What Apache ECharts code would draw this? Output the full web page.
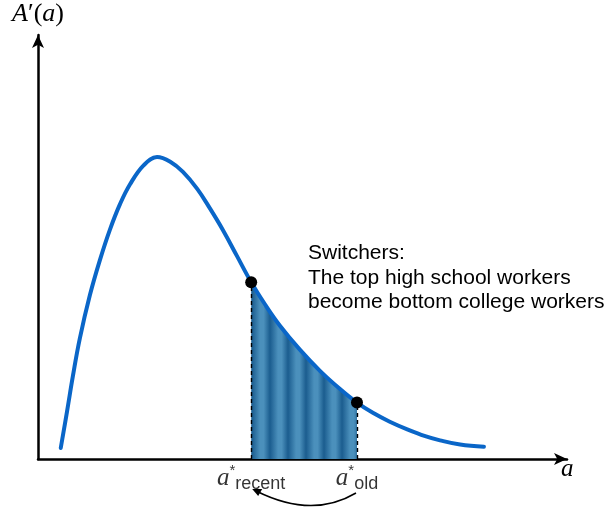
<!DOCTYPE html>
<html>
<head>
<meta charset="utf-8">
<script src="https://cdn.jsdelivr.net/npm/echarts@6/dist/echarts.min.js"></script>
<style>
  html, body { margin: 0; padding: 0; background: #fff; }
  #chart { width: 605px; height: 512px; }
</style>
</head>
<body>
<div id="chart"></div>
<script>
// curve A'(a) (arbitrary units, axes run 0..10)
const curveX = [0.43, 0.55, 0.66, 0.79, 0.98, 1.17, 1.36, 1.55, 1.74, 2.00, 2.25, 2.50, 2.74, 3.01, 3.25, 3.50, 3.76,
  4.03, 4.29, 4.57, 4.95, 5.33, 5.71, 6.03, 6.33, 6.65, 6.98, 7.32, 7.60, 7.98, 8.43];
const curveY = [0.26, 1.13, 1.96, 2.84, 3.86, 4.69, 5.41, 6.01, 6.48, 6.93, 7.12, 7.01, 6.77, 6.37, 5.91, 5.39, 4.79,
  4.17, 3.65, 3.15, 2.58, 2.08, 1.65, 1.33, 1.09, 0.88, 0.70, 0.54, 0.44, 0.34, 0.29];

// thresholds a*_recent and a*_old
const markNames = ['recent', 'old'];
const markX = [4.03, 6.03];

const switcherText = ['Switchers:', 'The top high school workers', 'become bottom college workers'];

const curve = curveX.map((x, i) => [x, curveY[i]]);
const shaded = curve.filter(p => p[0] >= markX[0] && p[0] <= markX[1]);
const markY = markX.map(x => curveY[curveX.indexOf(x)]);

// vertical stripe pattern for the shaded band
const stripe = document.createElement('canvas');
stripe.width = 18;
stripe.height = 4;
const sctx = stripe.getContext('2d');
const grad = sctx.createLinearGradient(0, 0, 18, 0);
grad.addColorStop(0, '#1b5d8f');
grad.addColorStop(0.45, '#4b90bc');
grad.addColorStop(0.65, '#4b90bc');
grad.addColorStop(1, '#1b5d8f');
sctx.fillStyle = grad;
sctx.fillRect(0, 0, 18, 4);

const chart = echarts.init(document.getElementById('chart'));

const serif = "'Liberation Serif', 'DejaVu Serif', serif";
const sans = "'Liberation Sans', Arial, sans-serif";

const noteText = {
  type: 'text', left: 308, top: 241,
  style: { text: switcherText.join('\n'), font: '21px ' + sans, lineHeight: 24.5, fill: '#000' }
};

const option = {
  animation: false,
  grid: { left: 38, right: 38, top: 35, bottom: 53 },
  xAxis: {
    type: 'value', min: 0, max: 10,
    name: 'a', nameLocation: 'end', nameGap: -6,
    nameTextStyle: { fontFamily: serif, fontStyle: 'italic', fontSize: 25, color: '#000',
      verticalAlign: 'top', padding: [-2, 0, 0, 0] },
    axisLine: { lineStyle: { color: '#000', width: 2.5 }, symbol: ['none', 'arrow'], symbolSize: [9, 13] },
    axisTick: { show: false }, axisLabel: { show: false }, splitLine: { show: false }
  },
  yAxis: {
    type: 'value', min: 0, max: 10,
    name: '{i|A}{n|′(}{i|a}{n|)}', nameLocation: 'end', nameGap: 8,
    nameTextStyle: {
      rich: {
        i: { fontFamily: serif, fontStyle: 'italic', fontSize: 26, color: '#000' },
        n: { fontFamily: serif, fontSize: 26, color: '#000' }
      }
    },
    axisLine: { lineStyle: { color: '#000', width: 2.5 }, symbol: ['none', 'arrow'], symbolSize: [9, 13] },
    axisTick: { show: false }, axisLabel: { show: false }, splitLine: { show: false }
  },
  series: [
    {
      type: 'line', data: shaded, smooth: 0.4, symbol: 'none', z: 1,
      lineStyle: { width: 0 },
      areaStyle: { origin: 'start', color: { image: stripe, repeat: 'repeat' }, opacity: 1 },
      markLine: {
        silent: true, symbol: 'none', label: { show: false },
        lineStyle: { color: '#000', type: [4, 3], width: 1.4 },
        data: markX.map((x, i) => [{ coord: [x, 0] }, { coord: [x, markY[i]] }])
      }
    },
    {
      type: 'line', data: curve, smooth: 0.4, symbol: 'none', z: 3,
      lineStyle: { color: '#0a66c8', width: 4, cap: 'round' }
    },
    {
      type: 'scatter', data: markX.map((x, i) => [x, markY[i]]), z: 4,
      symbolSize: 12, itemStyle: { color: '#000', opacity: 1 }
    },
    {
      type: 'scatter', data: markX.map(x => [x, 0]), symbolSize: 0, z: 4,
      label: {
        show: true, position: 'bottom', distance: 4,
        formatter: p => '{a|a}{s|*}{b|' + markNames[p.dataIndex] + '}',
        rich: {
          a: { fontFamily: serif, fontStyle: 'italic', fontSize: 25, color: '#000', lineHeight: 30 },
          s: { fontFamily: sans, fontSize: 15, color: '#000', verticalAlign: 'top', lineHeight: 16 },
          b: { fontFamily: sans, fontSize: 18, color: '#000', verticalAlign: 'bottom', lineHeight: 20 }
        }
      }
    }
  ],
  graphic: [noteText]
};

chart.setOption(option);

// curved arrow from a*_old back to a*_recent, placed from the data positions
const pOld = chart.convertToPixel({ gridIndex: 0 }, [markX[1], 0]);
const pNew = chart.convertToPixel({ gridIndex: 0 }, [markX[0], 0]);
const y0 = pOld[1] + 34;
const x1 = pOld[0] - 1, x2 = pNew[0] + 1;
chart.setOption({
  graphic: [
    noteText,
    {
      type: 'bezierCurve',
      shape: { x1: x1, y1: y0, x2: x2 + 4, y2: y0 - 2, cpx1: (x1 + x2) / 2 + 8, cpy1: y0 + 26 },
      style: { stroke: '#000', lineWidth: 1.5, fill: null }
    },
    {
      type: 'polygon',
      shape: { points: [[x2, y0 - 4], [x2 + 10, y0 - 4], [x2 + 6, y0 + 3]] },
      style: { fill: '#000' }
    }
  ]
});
</script>
</body>
</html>
